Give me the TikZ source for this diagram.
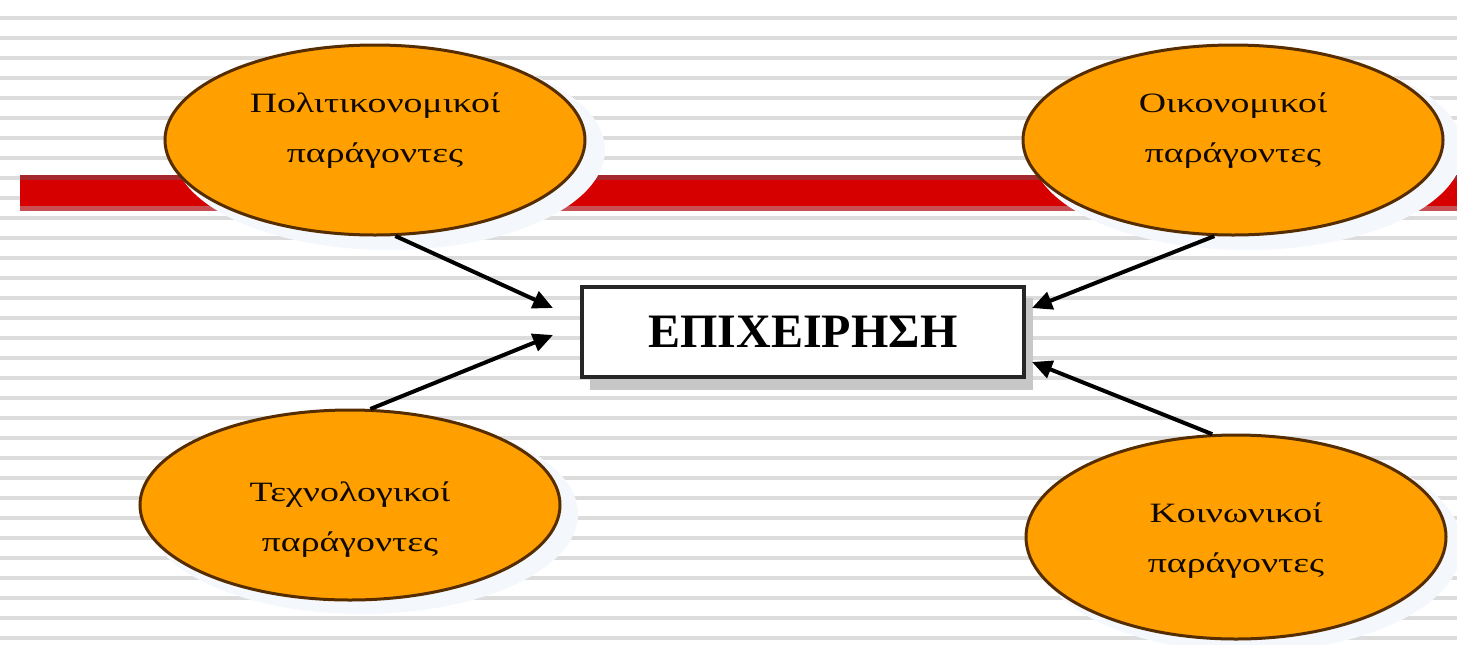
\documentclass[tikz,border=0pt]{standalone}
\usepackage{fontspec}
\setmainfont{Liberation Serif}
\newfontfamily\widefont[FakeStretch=1.35]{Liberation Serif}
\usetikzlibrary{shapes.geometric,arrows.meta,calc}

\definecolor{stripegray}{RGB}{220,220,220}
\definecolor{barred}{RGB}{214,0,0}
\definecolor{bartop}{RGB}{165,40,45}
\definecolor{barlow}{RGB}{200,80,85}
\definecolor{factorfill}{RGB}{255,160,0}
\definecolor{factorline}{RGB}{85,45,0}
\definecolor{glow}{RGB}{244,247,252}

\newcommand{\twolines}[3]{\raisebox{#1}[\height][\depth]{\begin{tabular}{@{}c@{}}#2\\#3\end{tabular}}}

\tikzset{every picture/.style={line width=0.75pt}}
\tikzset{
  factor/.style={ellipse, draw=factorline, line width=1.5pt, fill=factorfill,
    minimum width=210pt, minimum height=95pt, inner sep=0pt,
    font=\widefont\fontsize{14}{25}\selectfont, text=black!80!factorline},
  firm/.style={rectangle, draw=black!85, line width=2pt, fill=white,
    minimum width=221pt, minimum height=45pt,
    font=\bfseries\fontsize{24}{28}\selectfont},
  link/.style={line width=2pt, -{Triangle[length=10pt,width=9pt]}}
}

\begin{document}
\begin{tikzpicture}[x=0.5pt,y=0.5pt,yscale=-1]
		\path[use as bounding box] (0,0) rectangle (1457,644);
		
		%Background stripes
		\foreach \y in {16,36,...,636}
			\fill[stripegray] (0,\y) rectangle (1457,\y+4);
		
		%Shape: Red bar
		\fill[barred] (20,175) rectangle (1457,211);
		\fill[bartop] (20,175) rectangle (1457,180);
		\fill[barlow] (20,206) rectangle (1457,211);
		
		%Shape: Glows behind the ellipses
		\fill[glow] (389,150) ellipse [x radius=216, y radius=100];
		\fill[glow] (1247,150) ellipse [x radius=216, y radius=100];
		\fill[glow] (362,514) ellipse [x radius=216, y radius=100];
		\fill[glow] (1248,546) ellipse [x radius=214, y radius=106];
		
		%Shape: Ellipses
		\node[factor] (pol) at (375,140) {\twolines{6.5pt}{Πολιτικονομικοί}{παράγοντες}};
		\node[factor] (eco) at (1233,140) {\twolines{6.5pt}{Οικονομικοί}{παράγοντες}};
		\node[factor] (tech) at (350,505) {\twolines{-5.5pt}{Τεχνολογικοί}{παράγοντες}};
		\node[factor, minimum height=102pt] (soc) at (1236,537) {\twolines{0pt}{Κοινωνικοί}{παράγοντες}};
		
		%Shape: Box
		\fill[black!22] (590,298) rectangle (1033,390);
		\node[firm] (firm) at (803,332) {ΕΠΙΧΕΙΡΗΣΗ};
		
		%Arrow endpoints
		\coordinate (inPol) at (553,308);
		\coordinate (inTech) at (553,335);
		\coordinate (inEco) at (1032,308);
		\coordinate (inSoc) at (1032,362);
		
		%Straight Lines
		\draw[link] (pol.-78) -- (inPol);
		\draw[link] (tech.78) -- (inTech);
		\draw[link] (eco.-101) -- (inEco);
		\draw[link] (soc.103) -- (inSoc);
	\end{tikzpicture}
\end{document}
